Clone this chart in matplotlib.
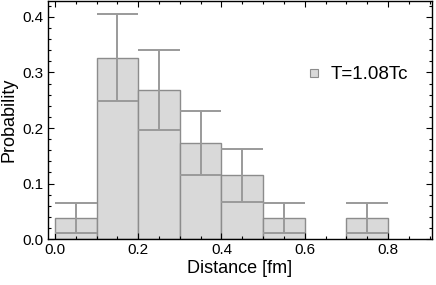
import numpy as np
import matplotlib
matplotlib.use("Agg")
import matplotlib.pyplot as plt
from matplotlib.lines import Line2D
from matplotlib.ticker import MultipleLocator

plt.rcParams['font.family'] = ['Liberation Sans', 'DejaVu Sans']

# histogram data (bin left edges, probability, error band)
bin_left = [0.0, 0.1, 0.2, 0.3, 0.4, 0.5, 0.6, 0.7]
prob = [0.0385, 0.327, 0.269, 0.173, 0.115, 0.0385, 0.0, 0.0385]
err_hi = [0.065, 0.406, 0.341, 0.231, 0.162, 0.065, 0.0, 0.065]
err_lo = [0.011, 0.248, 0.197, 0.116, 0.067, 0.011, 0.0, 0.011]
bin_w = 0.1
label = "T=1.08Tc"

fill_c = '#d9d9d9'
edge_c = '#8c8c8c'
err_c = '#9a9a9a'

fig = plt.figure(figsize=(4.36, 2.85), dpi=100)
ax = fig.add_axes([0.110, 0.161, 0.881, 0.836])

left = np.array(bin_left)
p = np.array(prob)
hi = np.array(err_hi)
lo = np.array(err_lo)
m = p > 0

ax.bar(left[m], p[m], width=bin_w, align='edge', color=fill_c,
       edgecolor=edge_c, linewidth=1.0, zorder=1)
centers = left[m] + bin_w / 2
ax.vlines(centers, lo[m], hi[m], color=err_c, lw=1.4, zorder=2)
ax.hlines(hi[m], left[m], left[m] + bin_w, color=err_c, lw=1.4, zorder=2)
ax.hlines(lo[m], left[m], left[m] + bin_w, color=err_c, lw=1.4, zorder=2)

ax.set_xlim(-0.017, 0.906)
ax.set_ylim(0, 0.429)

ax.xaxis.set_major_locator(MultipleLocator(0.2))
ax.xaxis.set_minor_locator(MultipleLocator(0.05))
ax.yaxis.set_major_locator(MultipleLocator(0.1))
ax.yaxis.set_minor_locator(MultipleLocator(0.02))
ax.tick_params(which='both', direction='in', top=True, right=True,
               labelsize=11, width=0.8, colors='black')
ax.tick_params(which='major', length=4, pad=3)
ax.tick_params(which='minor', length=2)
for s in ax.spines.values():
    s.set_linewidth(1.0)

ax.set_xlabel("Distance [fm]", fontsize=13, labelpad=2)
ax.set_ylabel("Probability", fontsize=13, labelpad=4)

handle = Line2D([], [], linestyle='none', marker='s', markersize=6,
                markerfacecolor=fill_c, markeredgecolor=edge_c,
                markeredgewidth=0.8)
ax.legend(handles=[handle], labels=[label], loc='center left',
          bbox_to_anchor=(0.623, 0.69), frameon=False, fontsize=13.5,
          handlelength=1.0, handletextpad=0.4)

fig.savefig("out.png", dpi=100)
